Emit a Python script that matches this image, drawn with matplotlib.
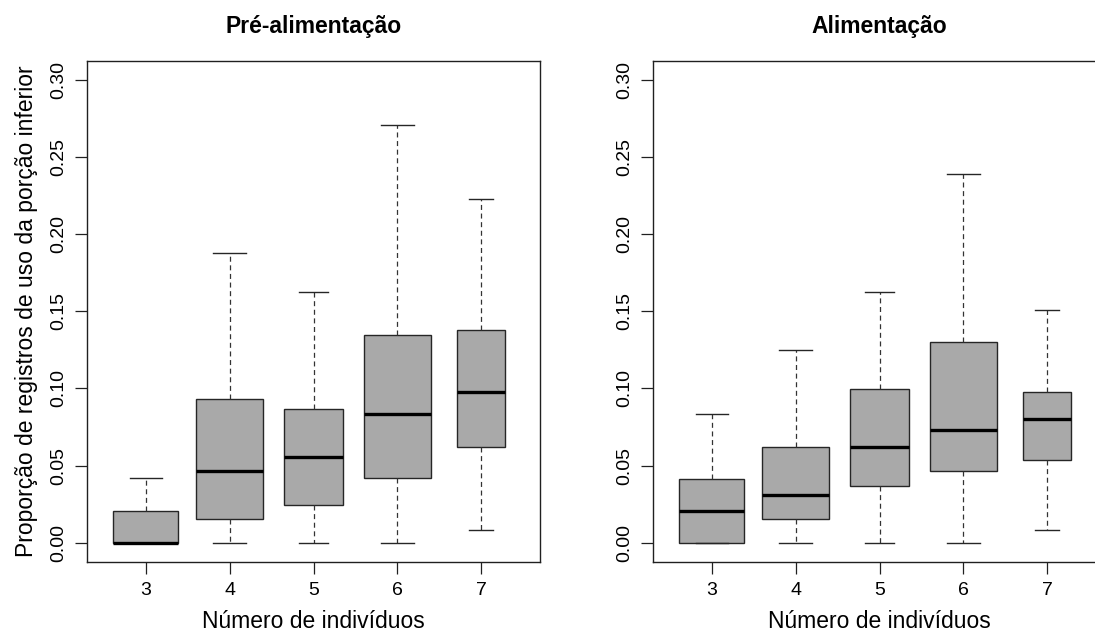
import matplotlib
matplotlib.use("Agg")
import matplotlib.pyplot as plt

plt.rcParams["font.family"] = ["Liberation Sans", "DejaVu Sans"]
plt.rcParams["lines.scale_dashes"] = False

# Group sizes (number of individuals)
grupos = [3, 4, 5, 6, 7]
rotulos_x = ["3", "4", "5", "6", "7"]

# Five-number summaries per group: lower whisker, Q1, median, Q3, upper whisker
pre_inf = [0.0, 0.0, 0.0, 0.0, 0.0085]
pre_q1 = [0.0, 0.0156, 0.0247, 0.0416, 0.0620]
pre_med = [0.0, 0.0465, 0.0558, 0.0832, 0.0975]
pre_q3 = [0.0205, 0.0932, 0.0867, 0.1346, 0.1378]
pre_sup = [0.0417, 0.1875, 0.1622, 0.2706, 0.2225]

ali_inf = [0.0, 0.0, 0.0, 0.0, 0.0085]
ali_q1 = [0.0, 0.0156, 0.0370, 0.0465, 0.0534]
ali_med = [0.0204, 0.0310, 0.0620, 0.0727, 0.0800]
ali_q3 = [0.0415, 0.0620, 0.0995, 0.1300, 0.0975]
ali_sup = [0.0834, 0.1250, 0.1622, 0.2389, 0.1510]

yticks = [0.00, 0.05, 0.10, 0.15, 0.20, 0.25, 0.30]

# box widths proportional to the square root of group size
larguras = [0.77, 0.80, 0.70, 0.79, 0.57]

W, H = 1095, 635
fig = plt.figure(figsize=(W / 100, H / 100), dpi=100)


def px_axes(x0, x1, y_top, y_bot):
    return fig.add_axes([x0 / W, 1 - y_bot / H, (x1 - x0) / W, (y_bot - y_top) / H])


def painel(ax, inf, q1, med, q3, sup, titulo, ylabel=None):
    stats = []
    for i in range(len(grupos)):
        stats.append(dict(whislo=inf[i], q1=q1[i], med=med[i], q3=q3[i],
                          whishi=sup[i], fliers=[]))
    ax.bxp(stats, positions=grupos, widths=larguras,
           capwidths=[w * 0.5 for w in larguras],
           patch_artist=True, showfliers=False,
           boxprops=dict(facecolor="#a9a9a9", edgecolor="#262626", linewidth=1.0),
           medianprops=dict(color="black", linewidth=2.4, solid_capstyle="butt"),
           whiskerprops=dict(color="#333333", linewidth=0.9, linestyle=(0, (3.6, 2.6))),
           capprops=dict(color="#262626", linewidth=1.0))
    ax.set_xlim(2.3, 7.7)
    ax.set_ylim(-0.0125, 0.3120)
    ax.set_xticks(grupos)
    ax.set_xticklabels(rotulos_x)
    ax.set_yticks(yticks)
    ax.set_yticklabels([f"{v:.2f}" for v in yticks], rotation=90, va="center")
    ax.tick_params(axis="both", length=8.5, width=0.9, color="#202020",
                   labelsize=14, pad=6)
    for s in ax.spines.values():
        s.set_linewidth(1.0)
        s.set_color("#202020")
    ax.set_xlabel("Número de indivíduos", fontsize=16.5, labelpad=7.5)
    if ylabel:
        ax.set_ylabel(ylabel, fontsize=16.5, labelpad=8.5)
    ax.set_title(titulo, fontsize=16.5, fontweight="bold", pad=20)


ax1 = px_axes(87, 540, 61, 562)
painel(ax1, pre_inf, pre_q1, pre_med, pre_q3, pre_sup, "Pré-alimentação",
       ylabel="Proporção de registros de uso da porção inferior")

ax2 = px_axes(653, 1106, 61, 562)
painel(ax2, ali_inf, ali_q1, ali_med, ali_q3, ali_sup, "Alimentação")

fig.savefig("out.png", dpi=100)
